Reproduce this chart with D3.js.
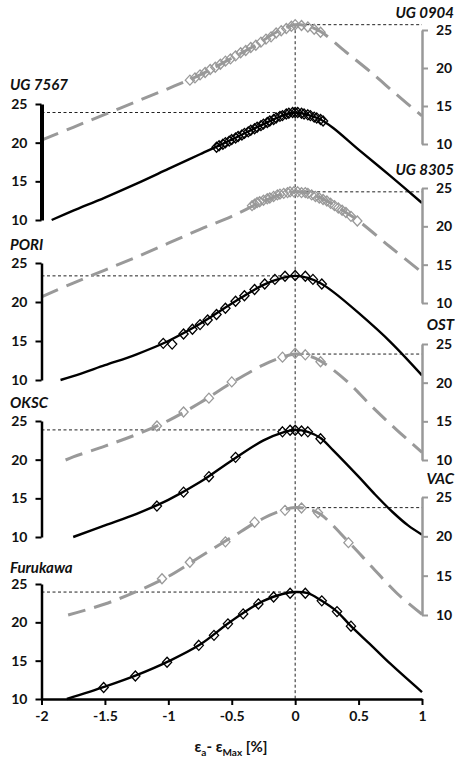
<!DOCTYPE html>
<html><head><meta charset="utf-8">
<script src="https://cdn.jsdelivr.net/npm/d3@7"></script>
<style>body{margin:0;background:#fff}svg{display:block}</style>
</head><body>
<svg id="chart" width="455" height="760"></svg>
<script>
// ---------------- DATA ----------------
const panelNames = ["UG 0904","UG 7567","UG 8305","PORI","OST","OKSC","VAC","Furukawa"];
const yTickValues = [10,15,20,25];
const xTickValues = [-2,-1.5,-1,-0.5,0,0.5,1];
const peakValues = [25.7,23.9,24.5,23.35,23.7,23.85,23.65,23.95];

const curveUG0904 = [[-2,10.5],[-1.75,12.2],[-1.5,13.9],[-1.25,15.6],[-1.0,17.3],[-0.75,19.1],[-0.5,21.3],[-0.3,23.1],[-0.15,24.7],[0,25.7],[0.1,25.5],[0.2,24.8],[0.4,22.1],[0.6,19.4],[0.8,16.5],[1.0,13.7]];
const curveUG7567 = [[-1.92,10.0],[-1.75,11.2],[-1.5,12.9],[-1.25,14.7],[-1.0,16.6],[-0.75,18.5],[-0.5,20.4],[-0.25,22.4],[-0.1,23.5],[0,23.9],[0.1,23.6],[0.2,23.0],[0.3,21.9],[0.5,19.1],[0.75,15.7],[1.0,12.2]];
const curveUG8305 = [[-2,10.8],[-1.75,12.6],[-1.5,14.3],[-1.25,16.0],[-1.0,17.8],[-0.75,19.6],[-0.5,21.3],[-0.25,23.3],[-0.1,24.2],[0,24.5],[0.1,24.3],[0.25,23.3],[0.4,21.8],[0.5,20.7],[0.75,17.3],[1.0,14.0]];
const curvePORI = [[-1.85,10.0],[-1.75,10.5],[-1.5,11.9],[-1.25,13.3],[-1.0,15.0],[-0.75,17.2],[-0.5,19.8],[-0.25,22.2],[-0.1,23.1],[0,23.35],[0.1,23.1],[0.2,22.4],[0.3,21.3],[0.5,18.6],[0.75,14.9],[1.0,10.6]];
const curveOST = [[-1.81,10.0],[-1.75,10.4],[-1.5,11.8],[-1.25,13.3],[-1.0,15.1],[-0.75,17.4],[-0.5,20.0],[-0.25,22.3],[-0.1,23.3],[0,23.7],[0.1,23.5],[0.2,22.8],[0.4,20.3],[0.6,17.0],[0.8,13.9],[1.0,11.0]];
const curveOKSC = [[-1.75,10.0],[-1.5,11.5],[-1.25,13.0],[-1.0,14.8],[-0.75,17.1],[-0.5,19.9],[-0.25,22.5],[-0.1,23.5],[0,23.85],[0.1,23.6],[0.2,22.8],[0.3,21.2],[0.5,17.8],[0.63,15.5],[0.77,13.2],[0.89,11.5],[1.0,10.3]];
const curveVAC = [[-1.79,10.0],[-1.5,11.4],[-1.25,13.0],[-1.0,14.9],[-0.75,17.4],[-0.5,19.9],[-0.25,22.3],[-0.1,23.3],[0,23.65],[0.1,23.5],[0.2,22.8],[0.42,19.3],[0.6,16.2],[0.8,12.8],[1.0,10.1]];
const curveFurukawa = [[-1.8,10.0],[-1.5,11.6],[-1.25,13.1],[-1.0,14.9],[-0.75,17.1],[-0.5,20.2],[-0.25,22.8],[-0.1,23.7],[0,23.95],[0.1,23.8],[0.2,22.9],[0.33,21.4],[0.44,19.5],[0.6,17.0],[0.75,14.6],[1.0,10.9]];

const pointsUG0904 = [[-0.83,18.4],[-0.79,18.7],[-0.75,19.1],[-0.71,19.4],[-0.67,19.8],[-0.63,20.1],[-0.59,20.5],[-0.55,20.9],[-0.51,21.2],[-0.47,21.6],[-0.43,22.0],[-0.39,22.3],[-0.35,22.7],[-0.31,23.0],[-0.27,23.4],[-0.23,23.8],[-0.19,24.1],[-0.15,24.6],[-0.11,24.9],[-0.07,25.2],[-0.03,25.5],[0.0,25.7],[0.05,25.6],[0.10,25.4],[0.15,25.1],[0.20,24.7]];
const pointsUG7567 = [[-0.62,19.4],[-0.60,19.6],[-0.57,19.8],[-0.55,20.0],[-0.52,20.2],[-0.50,20.4],[-0.47,20.6],[-0.45,20.8],[-0.42,21.0],[-0.40,21.2],[-0.37,21.4],[-0.35,21.6],[-0.32,21.8],[-0.30,22.0],[-0.27,22.2],[-0.25,22.4],[-0.22,22.6],[-0.20,22.8],[-0.17,23.0],[-0.15,23.2],[-0.12,23.4],[-0.10,23.5],[-0.07,23.7],[-0.05,23.8],[-0.02,23.9],[0.00,23.9],[0.02,23.9],[0.05,23.8],[0.07,23.7],[0.10,23.6],[0.12,23.5],[0.15,23.3],[0.17,23.2],[0.20,23.0],[0.22,22.8]];
const pointsUG8305 = [[-0.34,22.7],[-0.32,22.9],[-0.30,23.1],[-0.28,23.2],[-0.25,23.4],[-0.22,23.6],[-0.20,23.7],[-0.17,23.9],[-0.14,24.1],[-0.12,24.2],[-0.09,24.3],[-0.06,24.4],[-0.04,24.5],[-0.01,24.5],[0.02,24.5],[0.05,24.4],[0.08,24.4],[0.10,24.3],[0.13,24.1],[0.16,23.9],[0.19,23.7],[0.22,23.5],[0.25,23.3],[0.28,23.0],[0.31,22.7],[0.34,22.4],[0.37,22.1],[0.40,21.8],[0.44,21.3],[0.49,20.7]];
const pointsPORI = [[-1.04,14.7],[-0.97,14.6],[-0.88,15.9],[-0.81,16.5],[-0.75,17.1],[-0.69,17.7],[-0.62,18.4],[-0.55,19.2],[-0.47,20.1],[-0.40,20.8],[-0.32,21.6],[-0.24,22.3],[-0.16,22.9],[-0.08,23.3],[0.0,23.4],[0.08,23.3],[0.14,22.9],[0.21,22.3]];
const pointsOST = [[-1.09,14.4],[-0.88,16.2],[-0.68,18.0],[-0.50,20.1],[-0.10,23.3],[0.0,23.8],[0.08,23.6],[0.20,22.7]];
const pointsOKSC = [[-1.09,14.0],[-0.88,15.8],[-0.68,17.8],[-0.47,20.3],[-0.10,23.6],[-0.04,23.8],[0.0,23.8],[0.05,23.7],[0.10,23.6],[0.20,22.7]];
const pointsVAC = [[-1.05,14.6],[-0.83,16.7],[-0.55,19.3],[-0.32,21.8],[-0.08,23.3],[0.05,23.6],[0.18,23.0],[0.42,19.2]];
const pointsFurukawa = [[-1.51,11.5],[-1.26,13.0],[-1.01,14.8],[-0.76,17.0],[-0.64,18.3],[-0.53,19.8],[-0.41,21.1],[-0.29,22.4],[-0.17,23.3],[-0.04,23.8],[0.08,23.8],[0.21,22.8],[0.33,21.4],[0.44,19.5]];

const curves = [curveUG0904,curveUG7567,curveUG8305,curvePORI,curveOST,curveOKSC,curveVAC,curveFurukawa];
const points = [pointsUG0904,pointsUG7567,pointsUG8305,pointsPORI,pointsOST,pointsOKSC,pointsVAC,pointsFurukawa];

// ---------------- LAYOUT / STYLE ----------------
const layout = [
  {y10:144, y25:30,  side:"right", titleY:18},
  {y10:220, y25:104, side:"left",  titleY:90, axisW:4},
  {y10:303, y25:188, side:"right", titleY:175},
  {y10:380, y25:263, side:"left",  titleY:250},
  {y10:460, y25:344, side:"right", titleY:330},
  {y10:537, y25:421, side:"left",  titleY:408},
  {y10:615, y25:497, side:"right", titleY:484},
  {y10:699, y25:584, side:"left",  titleY:573}
];
const GRAY = "#999999";
const FONT = "Lato, 'Open Sans', 'DejaVu Sans', sans-serif";

const svg = d3.select("#chart");
const x = d3.scaleLinear().domain([-2,1]).range([41.5,422]);
const xAxisY = layout[7].y10;

const yScales = layout.map(l => d3.scaleLinear().domain([10,25]).range([l.y10,l.y25]));

const gRef = svg.append("g");
const gLines = svg.append("g");
const gMarks = svg.append("g");
const gAxes = svg.append("g");

// reference dotted lines
gRef.append("line")
  .attr("x1",x(0)).attr("x2",x(0))
  .attr("y1",yScales[0](peakValues[0])).attr("y2",xAxisY)
  .attr("stroke","#222").attr("stroke-width",1).attr("stroke-dasharray","3,2.5");
layout.forEach((l,i) => {
  const yy = yScales[i](peakValues[i]);
  const xa = l.side === "left" ? x(-2) : x(0);
  const xb = l.side === "left" ? x(0) : x(1);
  gRef.append("line").attr("x1",xa).attr("x2",xb).attr("y1",yy).attr("y2",yy)
    .attr("stroke","#222").attr("stroke-width",1).attr("stroke-dasharray","3,2.5");
});

const diamond = "M0,-5L4.6,0L0,5L-4.6,0Z";

layout.forEach((l,i) => {
  const y = yScales[i];
  const isLeft = l.side === "left";
  const col = isLeft ? "#000" : GRAY;
  const line = d3.line().x(d => x(d[0])).y(d => y(d[1])).curve(d3.curveCatmullRom.alpha(0.5));
  gLines.append("path").datum(curves[i]).attr("d",line)
    .attr("fill","none").attr("stroke",col)
    .attr("stroke-width", isLeft ? 2.4 : 3)
    .attr("stroke-dasharray", isLeft ? null : "18,9");
  gMarks.selectAll(null).data(points[i]).join("path")
    .attr("d",diamond)
    .attr("transform",d => `translate(${x(d[0])},${y(d[1])})`)
    .attr("fill","none").attr("stroke",col).attr("stroke-width",1.3);

  // axis
  const ax = (isLeft ? d3.axisLeft(y) : d3.axisRight(y))
    .tickValues(yTickValues).tickSize(6).tickSizeOuter(0).tickPadding(8)
    .tickFormat(d => String(d));
  const g = gAxes.append("g").attr("transform",`translate(${isLeft ? x(-2) : x(1)},0)`).call(ax);
  g.select(".domain").attr("stroke",col).attr("stroke-width", l.axisW || 2.5);
  g.selectAll(".tick line").attr("stroke",col).attr("stroke-width",2);
  g.selectAll(".tick text").attr("fill","#111").attr("font-family",FONT)
    .attr("font-weight","bold").attr("font-size",14);

  // title
  gAxes.append("text")
    .attr("x", isLeft ? 10 : 454).attr("y", l.titleY)
    .attr("text-anchor", isLeft ? "start" : "end")
    .attr("font-family",FONT).attr("font-weight","bold").attr("font-style","italic")
    .attr("font-size",15).attr("fill","#111").text(panelNames[i]);
});

// bottom x axis
const xa = d3.axisBottom(x).tickValues(xTickValues).tickSize(6).tickSizeOuter(0).tickPadding(6)
  .tickFormat(d => String(d));
const gx = gAxes.append("g").attr("transform",`translate(0,${xAxisY})`).call(xa);
gx.select(".domain").attr("stroke","#000").attr("stroke-width",2.5);
gx.selectAll(".tick line").attr("stroke","#000").attr("stroke-width",2);
gx.selectAll(".tick text").attr("fill","#111").attr("font-family",FONT)
  .attr("font-weight","bold").attr("font-size",14);

// x axis title
const t = gAxes.append("text").attr("x",231).attr("y",752).attr("text-anchor","middle")
  .attr("font-family",FONT).attr("font-weight","bold").attr("font-size",15).attr("fill","#111");
t.append("tspan").text("ε");
t.append("tspan").attr("dy",4).attr("font-size",10).text("a");
t.append("tspan").attr("dy",-4).text("- ε");
t.append("tspan").attr("dy",4).attr("font-size",10).text("Max");
t.append("tspan").attr("dy",-4).text(" [%]");
</script>
</body></html>
